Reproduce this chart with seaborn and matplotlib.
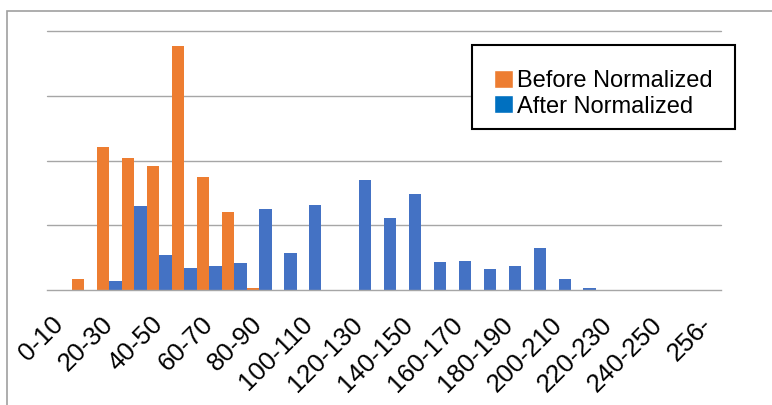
import numpy as np
import pandas as pd
import seaborn as sns
import matplotlib.pyplot as plt
from matplotlib.patches import Patch, Rectangle

sns.set_style("white")
plt.rcParams['font.family'] = ['Liberation Sans', 'DejaVu Sans']
plt.rcParams['text.color'] = 'black'

ranges = ['0-10', '10-20', '20-30', '30-40', '40-50', '50-60', '60-70', '70-80',
          '80-90', '90-100', '100-110', '110-120', '120-130', '130-140', '140-150',
          '150-160', '160-170', '170-180', '180-190', '190-200', '200-210',
          '210-220', '220-230', '230-240', '240-250', '250-256', '256-']
before = [0, 0.17, 2.21, 2.04, 1.91, 3.77, 1.75, 1.21, 0.04, 0, 0, 0, 0, 0,
          0, 0, 0, 0, 0, 0, 0, 0, 0, 0, 0, 0, 0]
after = [0, 0.01, 0.15, 1.30, 0.55, 0.35, 0.38, 0.42, 1.25, 0.58, 1.32, 0, 1.70,
         1.11, 1.49, 0.44, 0.45, 0.33, 0.38, 0.65, 0.17, 0.04, 0, 0, 0, 0, 0]
series = ['Before Normalized', 'After Normalized']

df = pd.DataFrame({
    'range': ranges * 2,
    'value': before + after,
    'series': [series[0]] * len(ranges) + [series[1]] * len(ranges),
})

W, H = 772, 405
fig = plt.figure(figsize=(W / 100, H / 100), dpi=100)
ax = fig.add_axes([47 / W, 1 - 290.3 / H, (720.7 - 47) / W, (290.3 - 30.7) / H])

sns.barplot(data=df, x='range', y='value', hue='series', order=ranges,
            hue_order=series, palette=['#ED7D31', '#4472C4'], saturation=1,
            width=1.0, dodge=True, linewidth=0, legend=False, ax=ax)

ax.set_xlim(-0.5, len(ranges) - 0.5)
ax.set_ylim(0, 4.0)
ax.set_yticks([1, 2, 3, 4])
ax.set_yticklabels([])
ax.tick_params(axis='y', length=0)
ax.yaxis.grid(True, color='#A6A6A6', linewidth=1.0)
for g in ax.get_ygridlines():
    g.set_clip_on(False)
ax.set_axisbelow(True)

for s in ['top', 'left', 'right']:
    ax.spines[s].set_visible(False)
ax.spines['bottom'].set_color('#A6A6A6')
ax.spines['bottom'].set_linewidth(1.0)

ax.set_xticks(np.arange(len(ranges)))
ax.set_xticklabels([r if i % 2 == 0 else '' for i, r in enumerate(ranges)],
                   rotation=45, ha='right', va='center', rotation_mode='anchor',
                   fontsize=18.5)
ax.tick_params(axis='x', which='major', length=0, pad=22, labelcolor='black')
ax.set_xticks(np.arange(len(ranges) + 1) - 0.5, minor=True)
ax.tick_params(axis='x', which='minor', length=6, width=1.0, color='#A6A6A6')
ax.set_xlabel('')
ax.set_ylabel('')

# legend box (drawn like the spreadsheet one)
fig.patches.append(Rectangle((472 / W, 1 - 129 / H), (735 - 472) / W, (129 - 45) / H,
                             transform=fig.transFigure, facecolor='white',
                             edgecolor='black', linewidth=1.5, zorder=3))
handles = [Patch(facecolor='#ED7D31'), Patch(facecolor='#0070C0')]
leg = fig.legend(handles, series, loc='upper left',
                 bbox_to_anchor=(494 / W, 1 - 70 / H), fontsize=17,
                 frameon=False, handlelength=0.8, handleheight=0.8,
                 handletextpad=0.17, labelspacing=0.13, borderpad=0,
                 borderaxespad=0)
leg.set_zorder(4)

# outer chart border
fig.patches.append(Rectangle((7 / W, -0.2), 1.5, 1.2 - 10.7 / H,
                             transform=fig.transFigure, fill=False,
                             edgecolor='#A0A0A0', linewidth=1.2))

fig.savefig('out.png', dpi=100)
